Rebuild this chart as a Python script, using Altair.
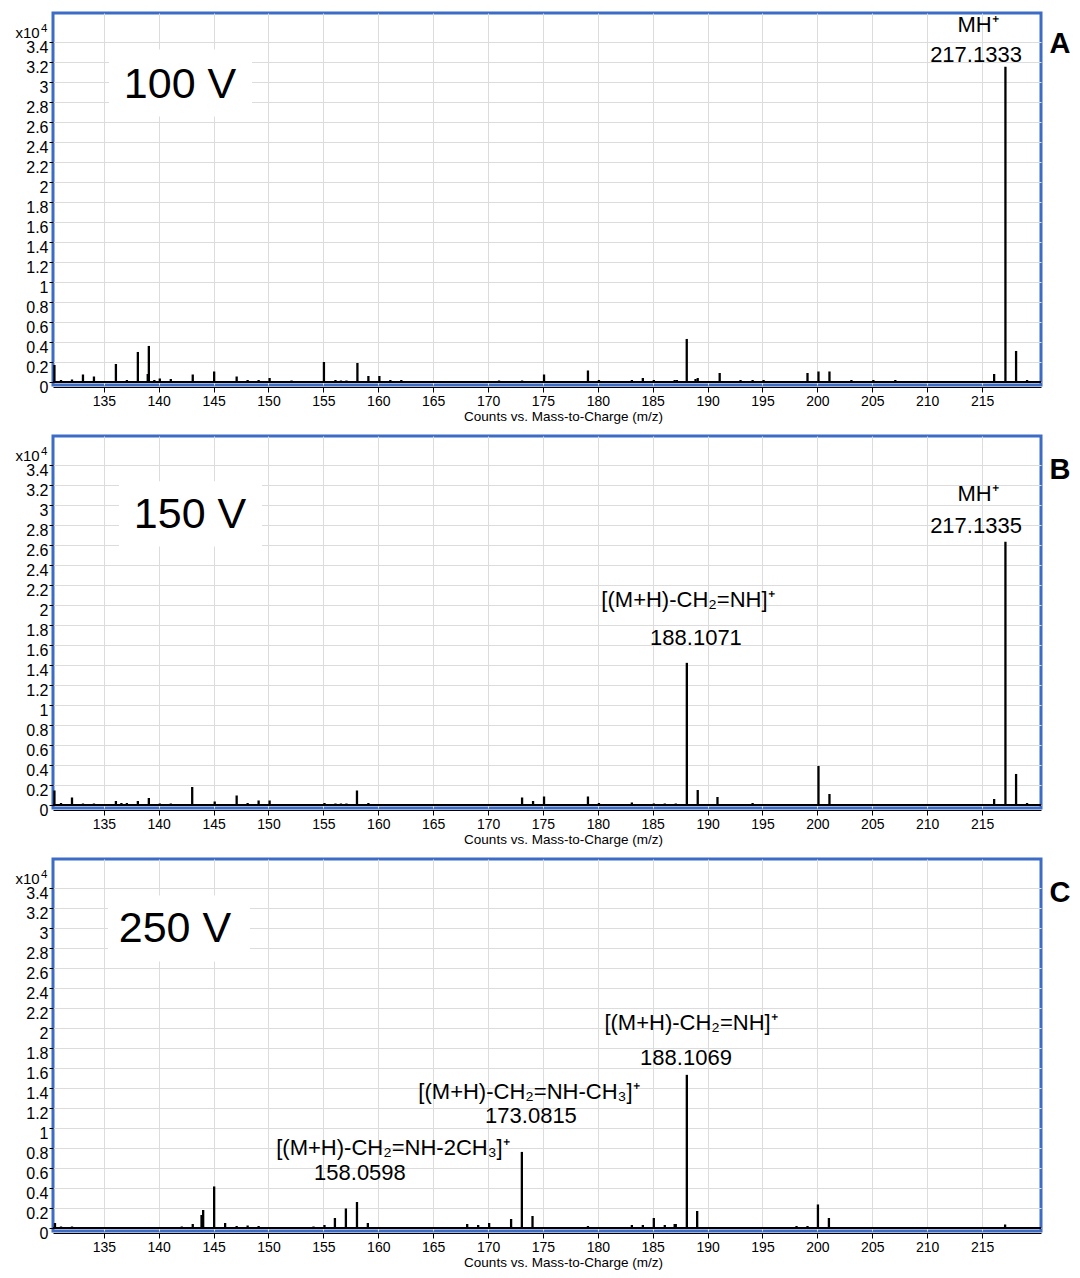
import altair as alt
import pandas as pd

FONT = "Liberation Sans"
BLUE = "#3d6cc6"

# ---------------- data (intensity in units of 10^4 counts) ----------------
A_MZ = [130.5, 131.1, 132.1, 133.1, 134.1, 135.1, 136.1, 137.1, 138.1, 139.0, 139.1, 139.6,
        140.1, 141.1, 142.1, 143.1, 144.1, 145.05, 146.1, 147.1, 148.1, 149.1, 150.1, 151.1,
        152.1, 155.05, 156.1, 156.6, 157.1, 158.1, 159.1, 160.1, 161.1, 162.1, 163.1, 164.1,
        165.1, 166.1, 167.1, 168.1, 171.0, 172.1, 173.1, 175.1, 176.1, 177.1, 179.1, 180.1,
        181.1, 183.1, 184.1, 185.1, 186.1, 187.0, 187.2, 188.1, 188.9, 189.1, 190.1, 191.1,
        193.0, 194.1, 195.1, 196.1, 197.1, 199.1, 200.1, 201.1, 202.1, 203.1, 204.1, 205.1,
        206.1, 207.1, 208.1, 209.1, 211.0, 212.0, 213.0, 215.1, 216.1, 217.13, 218.1, 219.1]
A_INT = [0.17, 0.02, 0.025, 0.075, 0.055, 0.01, 0.18, 0.02, 0.30, 0.08, 0.36, 0.02,
         0.035, 0.03, 0.01, 0.075, 0.01, 0.105, 0.01, 0.055, 0.02, 0.02, 0.04, 0.01,
         0.015, 0.20, 0.02, 0.015, 0.015, 0.19, 0.06, 0.06, 0.02, 0.02, 0.01, 0.01,
         0.01, 0.01, 0.01, 0.01, 0.015, 0.01, 0.015, 0.075, 0.01, 0.01, 0.115, 0.02,
         0.01, 0.02, 0.04, 0.02, 0.01, 0.02, 0.02, 0.43, 0.03, 0.04, 0.01, 0.09,
         0.02, 0.02, 0.02, 0.01, 0.01, 0.09, 0.105, 0.105, 0.01, 0.02, 0.01, 0.02,
         0.01, 0.02, 0.01, 0.01, 0.01, 0.01, 0.01, 0.01, 0.08, 3.15, 0.31, 0.02]

B_MZ = [130.5, 131.1, 132.1, 133.1, 134.1, 135.1, 136.1, 136.6, 137.1, 138.1, 139.1, 140.1,
        141.1, 143.05, 144.1, 145.1, 146.1, 147.1, 148.1, 149.1, 150.1, 151.1, 155.1, 156.1,
        156.6, 157.1, 158.06, 159.1, 160.1, 161.1, 162.1, 163.1, 164.1, 165.1, 166.1, 167.1,
        168.1, 169.1, 170.1, 171.1, 172.1, 173.1, 174.1, 175.1, 176.1, 177.1, 178.1, 179.1,
        180.1, 183.1, 184.1, 185.1, 186.1, 187.1, 188.107, 189.1, 190.9, 192.1, 193.1, 194.1,
        195.1, 196.1, 197.1, 198.1, 199.1, 200.1, 201.1, 202.1, 203.1, 204.1, 205.1, 207.1,
        208.1, 209.1, 211.1, 214.1, 215.1, 216.1, 217.13, 218.1, 219.1]
B_INT = [0.145, 0.02, 0.075, 0.015, 0.015, 0.01, 0.04, 0.02, 0.02, 0.04, 0.07, 0.015,
         0.015, 0.18, 0.01, 0.035, 0.01, 0.095, 0.02, 0.045, 0.045, 0.01, 0.02, 0.015,
         0.015, 0.015, 0.145, 0.02, 0.01, 0.01, 0.01, 0.01, 0.01, 0.01, 0.01, 0.01,
         0.01, 0.01, 0.01, 0.01, 0.01, 0.075, 0.04, 0.085, 0.01, 0.01, 0.01, 0.085,
         0.02, 0.025, 0.01, 0.015, 0.015, 0.015, 1.42, 0.15, 0.08, 0.01, 0.01, 0.02,
         0.01, 0.01, 0.01, 0.01, 0.01, 0.39, 0.11, 0.01, 0.01, 0.01, 0.01, 0.01,
         0.01, 0.01, 0.01, 0.01, 0.01, 0.06, 2.63, 0.31, 0.02]

C_MZ = [130.55, 131.1, 132.1, 134.1, 135.1, 136.1, 137.1, 138.1, 139.1, 140.1, 141.1, 142.1,
        143.1, 143.9, 144.05, 145.05, 146.05, 147.1, 148.1, 149.1, 154.1, 155.1, 156.05, 157.05,
        158.06, 159.05, 160.1, 161.1, 162.1, 167.1, 168.1, 169.1, 170.1, 171.1, 172.1, 173.08,
        174.05, 176.1, 177.1, 179.1, 182.1, 183.1, 184.1, 185.1, 186.1, 187.0, 187.1, 188.107,
        189.05, 190.1, 191.0, 198.1, 199.1, 200.05, 201.05, 202.1, 211.1, 215.1, 217.1, 218.1]
C_INT = [0.05, 0.015, 0.015, 0.01, 0.01, 0.01, 0.01, 0.01, 0.01, 0.01, 0.01, 0.015,
         0.04, 0.13, 0.18, 0.415, 0.05, 0.02, 0.025, 0.02, 0.015, 0.03, 0.10, 0.195,
         0.26, 0.05, 0.01, 0.01, 0.01, 0.01, 0.04, 0.03, 0.05, 0.01, 0.09, 0.76,
         0.12, 0.01, 0.01, 0.02, 0.01, 0.03, 0.03, 0.10, 0.03, 0.04, 0.04, 1.53,
         0.17, 0.01, 0.01, 0.02, 0.02, 0.235, 0.10, 0.01, 0.01, 0.01, 0.035, 0.01]

VOLTAGES = ["100 V", "150 V", "250 V"]
LETTERS = ["A", "B", "C"]

# annotation texts
A_NOTES = ["MH⁺", "217.1333"]
B_NOTES = ["MH⁺", "217.1335", "[(M+H)-CH₂=NH]⁺", "188.1071"]
C_NOTES = ["[(M+H)-CH₂=NH]⁺", "188.1069", "[(M+H)-CH₂=NH-CH₃]⁺", "173.0815",
           "[(M+H)-CH₂=NH-2CH₃]⁺", "158.0598"]
EXPONENT = "4"

# ---------------- layout constants ----------------
TICKS_X = list(range(135, 220, 5))
TICKS_Y = [round(0.2 * i, 1) for i in range(18)]
X_DOMAIN = [130.37, 220.37]
Y_DOMAIN = [-0.03, 3.686]
W, H = 988, 372

# annotation anchor positions (data coordinates)
A_NOTE_POS = [(214.63, 3.50), (214.45, 3.20)]
B_NOTE_POS = [(214.63, 3.04), (214.45, 2.715), (188.21, 1.977), (188.94, 1.60)]
C_NOTE_POS = [(188.49, 1.977), (188.03, 1.63), (173.73, 1.287), (173.91, 1.05),
              (161.34, 0.725), (158.33, 0.48)]
VOLT_POS = [(141.94, 2.967), (142.85, 2.898), (141.48, 2.987)]
VOLT_BOX = [(135.47, 148.5, 3.322, 2.652), (136.38, 149.41, 3.233, 2.583),
            (135.38, 148.31, 3.322, 2.661)]
LETTER_POS = [(222.1, 3.381), (222.1, 3.351), (222.1, 3.351)]
EXP_POS = (129.27, 3.50)

XSCALE = alt.Scale(domain=X_DOMAIN, nice=False, zero=False)
YSCALE = alt.Scale(domain=Y_DOMAIN, nice=False, zero=False)
XAXIS = alt.Axis(values=TICKS_X, format="d",
                 title="Counts vs. Mass-to-Charge  (m/z)",
                 grid=True, offset=2, domainColor="black",
                 domainWidth=1, tickColor="black", tickSize=5,
                 labelFontSize=14, labelPadding=2, labelFlush=False,
                 labelOverlap=False,
                 titleFontSize=13.5, titleFontWeight="normal",
                 titlePadding=1, titleX=510)
YAXIS = alt.Axis(values=TICKS_Y, format=".2~f", title="x10",
                 grid=True, domain=False, tickColor="black",
                 tickSize=4, labelFontSize=16, labelPadding=1,
                 labelBaseline="top", labelOffset=-2, labelFlush=False,
                 labelOverlap=False,
                 titleAngle=0, titleAlign="left",
                 titleBaseline="alphabetic", titleX=-38, titleY=24,
                 titleFontSize=15, titleFontWeight="normal")


def xenc(field):
    return alt.X(f"{field}:Q", scale=XSCALE, axis=XAXIS)


def yenc(field):
    return alt.Y(f"{field}:Q", scale=YSCALE, axis=YAXIS)


def panel(mz, inten, notes, note_pos, idx):
    peaks = pd.DataFrame({"mz": mz, "inten": inten})
    base = alt.Chart(peaks)
    baseline = base.mark_rule(color="black", strokeWidth=2).encode(
        y=alt.YDatum(0, scale=YSCALE, axis=YAXIS))
    sticks = base.mark_rule(color="black", strokeWidth=2.3).encode(
        x=xenc("mz"), y=yenc("inten"), y2=alt.datum(0))

    bx = VOLT_BOX[idx]
    box_df = pd.DataFrame({"mz": [bx[0]], "mz2": [bx[1]], "inten": [bx[2]], "inten2": [bx[3]]})
    box = alt.Chart(box_df).mark_rect(fill="white").encode(
        x=xenc("mz"), x2="mz2", y=yenc("inten"), y2="inten2")

    vdf = pd.DataFrame({"mz": [VOLT_POS[idx][0]], "inten": [VOLT_POS[idx][1]],
                        "label": [VOLTAGES[idx]]})
    volt = alt.Chart(vdf).mark_text(font=FONT, fontSize=43, color="black",
                                    align="center", baseline="middle").encode(
        x=xenc("mz"), y=yenc("inten"), text="label")

    ndf = pd.DataFrame({"mz": [p[0] for p in note_pos], "inten": [p[1] for p in note_pos],
                        "label": notes})
    note = alt.Chart(ndf).mark_text(font=FONT, fontSize=22, color="black",
                                    align="center", baseline="alphabetic").encode(
        x=xenc("mz"), y=yenc("inten"), text="label")

    ldf = pd.DataFrame({"mz": [LETTER_POS[idx][0]], "inten": [LETTER_POS[idx][1]],
                        "label": [LETTERS[idx]]})
    letter = alt.Chart(ldf).mark_text(font=FONT, fontSize=29, fontWeight="bold",
                                      color="black", align="center",
                                      baseline="middle").encode(
        x=xenc("mz"), y=yenc("inten"), text="label")

    edf = pd.DataFrame({"mz": [EXP_POS[0]], "inten": [EXP_POS[1]], "label": [EXPONENT]})
    expo = alt.Chart(edf).mark_text(font=FONT, fontSize=11.5, color="black",
                                    align="left", baseline="alphabetic").encode(
        x=xenc("mz"), y=yenc("inten"), text="label")

    return alt.layer(box, sticks, baseline, volt, note, letter, expo).properties(
        width=W, height=H)


chart = alt.vconcat(
    panel(A_MZ, A_INT, A_NOTES, A_NOTE_POS, 0),
    panel(B_MZ, B_INT, B_NOTES, B_NOTE_POS, 1),
    panel(C_MZ, C_INT, C_NOTES, C_NOTE_POS, 2),
    spacing=10,
).properties(
    padding={"left": 5, "top": 3, "right": 0, "bottom": 0},
    background="white",
).configure_view(
    stroke=BLUE, strokeWidth=3
).configure_axis(
    labelFont=FONT, titleFont=FONT, labelColor="black", titleColor="black",
    gridColor="#dcdcdc", gridWidth=1
)

chart.save("out.html", embed_options={"renderer": "svg", "actions": False})
